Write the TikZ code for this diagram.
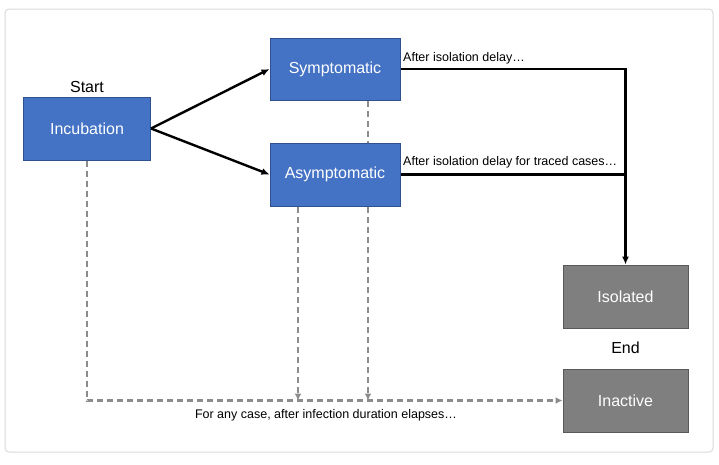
\documentclass[tikz,border=0pt]{standalone}
\usepackage{fontspec}
\setmainfont{Liberation Sans}
\usetikzlibrary{arrows.meta,calc}
\definecolor{boxblue}{HTML}{4472C4}
\definecolor{boxblueedge}{HTML}{2F528F}
\definecolor{boxgray}{HTML}{7F7F7F}
\definecolor{boxgrayedge}{HTML}{595959}
\definecolor{dashgray}{HTML}{8C8C8C}
\definecolor{framegray}{HTML}{D9D9D9}
\begin{document}
\begin{tikzpicture}[x=1pt,y=-1pt,
  bluebox/.style={draw=boxblueedge,line width=1pt,fill=boxblue,text=white,minimum width=127pt,minimum height=63pt,inner sep=0pt,font=\fontsize{16}{19}\selectfont},
  graybox/.style={draw=boxgrayedge,line width=1pt,fill=boxgray,text=white,minimum width=125pt,minimum height=63pt,inner sep=0pt,font=\fontsize{16}{19}\selectfont},
  biglabel/.style={font=\fontsize{16}{19}\selectfont,inner sep=0pt},
  smalllabel/.style={font=\fontsize{12.5}{15}\selectfont,inner sep=0pt},
  solidarrow/.style={line width=2.4pt,-{Latex[length=8pt,width=7pt]}},
  solidline/.style={line width=2.4pt},
  dashline/.style={draw=dashgray,line width=2.4pt,dash pattern=on 6pt off 4pt},
  dasharrow/.style={dashline,-{Latex[length=7pt,width=7pt]}}
]
\useasboundingbox (0,0) rectangle (719,464);
\draw[framegray,line width=1pt,rounded corners=4pt] (5,9) rectangle (713,452);

\node[bluebox] (inc) at (87,128.5) {Incubation};
\node[bluebox,minimum width=130pt,minimum height=62pt] (sym) at (335,69) {Symptomatic};
\node[bluebox,minimum width=130pt] (asym) at (335,174.5) {Asymptomatic};
\node[graybox] (iso) at (625.5,296.5) {Isolated};
\node[graybox] (inact) at (625.5,400.5) {Inactive};

\node[biglabel] (start) at (87,87) {Start};
\node[biglabel] (endl) at (625.5,348) {End};

\coordinate (xcol) at (625.5,0);
\coordinate (xa) at (298,0);
\coordinate (xb) at (368,0);
\coordinate (xinc) at (87,0);
\coordinate (ybot) at (0,400.5);

\draw[solidarrow] (inc.east) -- (sym.west);
\draw[solidarrow] (inc.east) -- (asym.west);

\coordinate (turn) at (sym.east -| xcol);
\coordinate (join) at (asym.east -| xcol);
\draw[solidarrow] (sym.east) -- (turn) -- (iso.north);
\draw[solidline] (asym.east) -- (join);

\node[smalllabel,anchor=west] (lab1) at (403,58) {After isolation delay…};
\node[smalllabel,anchor=west] (lab2) at (403,162) {After isolation delay for traced cases…};

\draw[dashline] (sym.south -| xb) -- (asym.north -| xb);
\coordinate (ta) at (xa |- ybot);
\coordinate (tb) at (xb |- ybot);
\coordinate (corner) at (xinc |- ybot);
\draw[dasharrow] (asym.south -| xa) -- (ta);
\draw[dasharrow] (asym.south -| xb) -- (tb);
\draw[dasharrow] (inc.south) -- (corner) -- (inact.west);

\node[smalllabel] (lab3) at (326,415) {For any case, after infection duration elapses…};
\end{tikzpicture}
\end{document}
